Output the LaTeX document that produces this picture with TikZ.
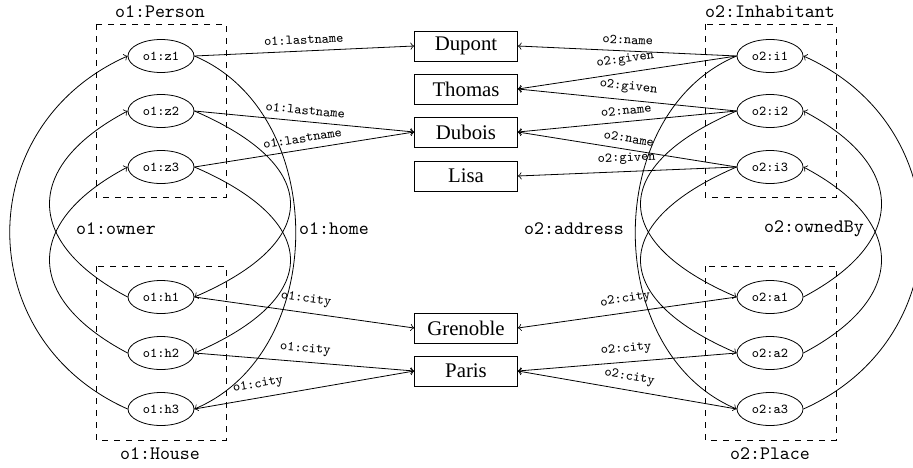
\documentclass[tikz,border=0pt]{standalone}
\usepackage{fontspec}
\setmainfont{Liberation Serif}
\usetikzlibrary{shapes.geometric}
\tikzset{
  ell/.style={ellipse, draw, minimum width=33pt, minimum height=16.5pt, inner sep=0pt, font=\fontsize{6.8}{8}\selectfont\ttfamily},
  val/.style={rectangle, draw, minimum width=51.5pt, minimum height=15pt, inner sep=0pt, font=\fontsize{10.4}{12}\selectfont},
  elab/.style={font=\fontsize{6.8}{8}\selectfont\ttfamily, above, sloped},
  big/.style={font=\fontsize{9.5}{11}\selectfont\ttfamily, inner sep=0pt},
  grp/.style={draw, dashed},
  conn/.style={->},
}
\begin{document}
\begin{tikzpicture}[x=0.5pt,y=0.5pt]
\useasboundingbox (0,0) rectangle (913,467);
\clip (0,0) rectangle (913,467);
% groups
\draw[grp] (96,443) rectangle (226,270);
\draw[grp] (96,201) rectangle (226,27);
\draw[grp] (705,443) rectangle (836,270);
\draw[grp] (705,201) rectangle (836,27);
\node[big] (gP) at (160,455) {o1:Person};
\node[big] (gH) at (160,13) {o1:House};
\node[big] (gI) at (770,455) {o2:Inhabitant};
\node[big] (gA) at (770,13) {o2:Place};
% left nodes
\node[ell] (z1) at (161,411) {o1:z1};
\node[ell] (z2) at (161,356) {o1:z2};
\node[ell] (z3) at (161,300) {o1:z3};
\node[ell] (h1) at (161,170) {o1:h1};
\node[ell] (h2) at (161,114) {o1:h2};
\node[ell] (h3) at (161,58) {o1:h3};
% right nodes
\node[ell] (i1) at (770,411) {o2:i1};
\node[ell] (i2) at (770,356) {o2:i2};
\node[ell] (i3) at (770,300) {o2:i3};
\node[ell] (a1) at (770,170) {o2:a1};
\node[ell] (a2) at (770,114) {o2:a2};
\node[ell] (a3) at (770,58) {o2:a3};
% values
\node[val] (dupont) at (466,421) {Dupont};
\node[val] (thomas) at (466,378) {Thomas};
\node[val] (dubois) at (466,335) {Dubois};
\node[val] (lisa) at (466,291) {Lisa};
\node[val] (grenoble) at (466,139) {Grenoble};
\node[val] (paris) at (466,96) {Paris};
% relation labels
\node[big] (lowner) at (116,238) {o1:owner};
\node[big] (lhome) at (334,238) {o1:home};
\node[big] (laddr) at (574,238) {o2:address};
\node[big] (lowned) at (814,238) {o2:ownedBy};
% left straight edges
\draw[conn] (z1.east) -- node[elab] {o1:lastname} (dupont.west);
\draw[conn] (z2.east) -- node[elab] {o1:lastname} (dubois.west);
\draw[conn] (z3.east) -- node[elab] {o1:lastname} (dubois.west);
\draw[conn] (h1.east) -- node[elab] {o1:city} (grenoble.west);
\draw[conn] (h2.east) -- node[elab] {o1:city} (paris.west);
\draw[conn] (h3.east) -- node[elab, pos=0.3] {o1:city} (paris.west);
% right straight edges
\draw[<-] (dupont.east) -- node[elab] {o2:name} (i1.west);
\draw[<-] (thomas.east) -- node[elab] {o2:given} (i1.west);
\draw[<-] (thomas.east) -- node[elab] {o2:given} (i2.west);
\draw[<-] (dubois.east) -- node[elab] {o2:name} (i2.west);
\draw[<-] (dubois.east) -- node[elab] {o2:name} (i3.west);
\draw[<-] (lisa.east) -- node[elab] {o2:given} (i3.west);
\draw[<-] (grenoble.east) -- node[elab] {o2:city} (a1.west);
\draw[<-] (paris.east) -- node[elab] {o2:city} (a2.west);
\draw[<-] (paris.east) -- node[elab] {o2:city} (a3.west);
% owner
\draw[conn] (h3.west) .. controls +(-157,70) and +(-157,-70) .. (z1.west);
\draw[conn] (h1.west) .. controls +(-104,55) and +(-104,-55) .. (z2.west);
\draw[conn] (h2.west) .. controls +(-104,55) and +(-104,-55) .. (z3.west);
% home
\draw[conn] (z1.east) .. controls +(135,-57) and +(135,57) .. (h3.east);
\draw[conn] (z2.east) .. controls +(128,-55) and +(128,55) .. (h1.east);
\draw[conn] (z3.east) .. controls +(128,-55) and +(128,55) .. (h2.east);
% address
\draw[conn] (i1.west) .. controls +(-135,-57) and +(-135,57) .. (a3.west);
\draw[conn] (i2.west) .. controls +(-128,-55) and +(-128,55) .. (a1.west);
\draw[conn] (i3.west) .. controls +(-128,-55) and +(-128,55) .. (a2.west);
% ownedBy
\draw[conn] (a3.east) .. controls +(157,70) and +(157,-70) .. (i1.east);
\draw[conn] (a1.east) .. controls +(104,55) and +(104,-55) .. (i2.east);
\draw[conn] (a2.east) .. controls +(104,55) and +(104,-55) .. (i3.east);
\end{tikzpicture}
\end{document}
